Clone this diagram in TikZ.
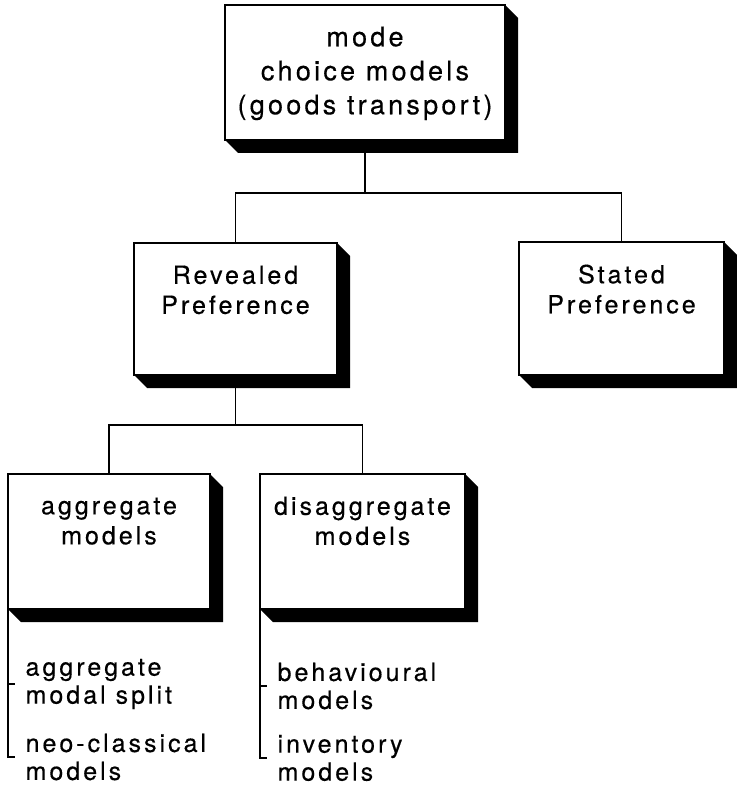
\documentclass[tikz,border=0pt]{standalone}
\usepackage{fontspec}
\setmainfont{TeX Gyre Heros}[LetterSpace=12, FakeBold=0.4]
\newcommand{\boxshadow}[1]{\fill (#1.south west) -- ++(13,13) -| ([shift={(13,13)}]#1.north east) -- (#1.north east) -- (#1.south east) -- cycle;}
\tikzset{
  box/.style={draw, fill=white, line width=1.5pt, inner sep=0pt, outer sep=0pt},
  boxtext/.style={anchor=north, align=center, inner sep=0pt, font=\fontsize{25}{30}\selectfont},
  itemtext/.style={anchor=west, align=left, inner xsep=10pt, inner ysep=0pt, font=\fontsize{25}{28}\selectfont}
}
\begin{document}
\begin{tikzpicture}[x=1pt, y=-1pt, line width=1.2pt]
\useasboundingbox (0,0) rectangle (736,791);
\node[box, minimum width=280pt, minimum height=135pt] (mcm) at (365,72.5) {};
\node[box, minimum width=203pt, minimum height=132pt] (rp) at (235.5,309) {};
\node[box, minimum width=205pt, minimum height=133pt] (sp) at (621.5,308.5) {};
\node[box, minimum width=202pt, minimum height=135pt] (ag) at (109,541.5) {};
\node[box, minimum width=205pt, minimum height=135pt] (dg) at (362.5,541.5) {};

\node[boxtext, font=\fontsize{27}{34}\selectfont] (mcmt) at ([yshift=-21pt]mcm.north) {mode\\choice models\\(goods transport)};
\node[boxtext] (rpt) at ([yshift=-22pt]rp.north) {Revealed\\Preference};
\node[boxtext] (spt) at ([yshift=-22pt]sp.north) {Stated\\Preference};
\node[boxtext] (agt) at ([yshift=-23pt]ag.north) {aggregate\\models};
\node[boxtext] (dgt) at ([yshift=-22pt]dg.north) {disaggregate\\models};

\coordinate (j1) at (365,193);
\coordinate (j2) at (235.5,425);
\draw (mcm.south) -- (j1);
\draw (rp.north) |- (j1) -| (sp.north);
\draw (rp.south) -- (j2);
\draw (ag.north) |- (j2) -| (dg.north);
\foreach \nm in {mcm,rp,sp,ag,dg}
{
    \boxshadow{\nm}
}

\node[itemtext] (ag1) at (15,684) {aggregate\\modal split};
\node[itemtext] (ag2) at (15,757) {neo-classical\\models};
\node[itemtext] (dg1) at (267,686) {behavioural\\models};
\node[itemtext] (dg2) at (267,758) {inventory\\models};
\draw (ag.south west) |- (ag1.west);
\draw (ag.south west) |- (ag2.west);
\draw (dg.south west) |- (dg1.west);
\draw (dg.south west) |- (dg2.west);
\end{tikzpicture}
\end{document}
